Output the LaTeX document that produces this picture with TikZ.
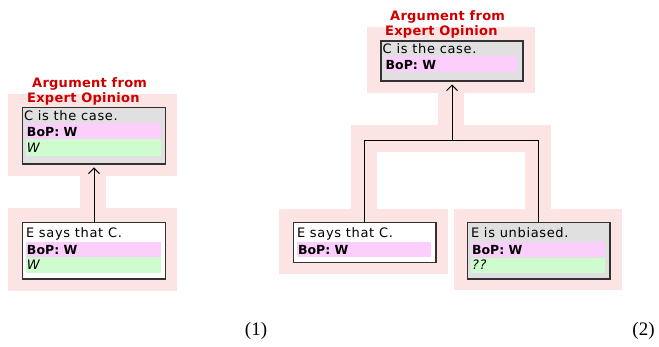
\documentclass[tikz,border=0pt]{standalone}
\usepackage{fontspec}
\setmainfont{Liberation Serif}
\newfontfamily\regf{DejaVu Sans}[LetterSpace=5]
\newfontfamily\boldf{DejaVu Sans}
\newfontfamily\redf{DejaVu Sans}[LetterSpace=2]
\usetikzlibrary{arrows.meta,calc}
\definecolor{halo}{RGB}{253,228,228}
\definecolor{bandp}{RGB}{252,206,252}
\definecolor{bandg}{RGB}{206,252,206}
\definecolor{boxg}{RGB}{224,224,224}
\definecolor{labred}{RGB}{204,0,0}
\definecolor{edge}{RGB}{50,50,50}
\tikzset{
  stmt/.style={draw=edge, line width=1.2pt, rectangle, anchor=north west, inner sep=0pt, outer sep=0pt},
  txt/.style={anchor=base west, inner sep=0pt, font=\regf\fontsize{13}{15}\selectfont},
  bop/.style={anchor=base west, inner sep=0pt, font=\boldf\bfseries\fontsize{12.5}{15}\selectfont},
  itl/.style={anchor=base west, inner sep=0pt, font=\regf\itshape\fontsize{13}{15}\selectfont},
  redlab/.style={anchor=base west, inner sep=0pt, text=labred, font=\redf\bfseries\fontsize{13}{15}\selectfont},
  conn/.style={draw=black, line width=0.9pt},
  tiparrow/.style={-{Straight Barb[length=5.5pt,width=11pt,line width=0.9pt]}, shorten >=3.5pt},
  num/.style={inner sep=0pt, font=\fontsize{19}{21}\selectfont}
}
\begin{document}
\begin{tikzpicture}[x=1pt,y=-1pt]
\useasboundingbox (0,0) rectangle (659,347);
% halos diagram 1
\fill[halo] (8,94) rectangle (177,176);
\fill[halo] (80,176) rectangle (106,208);
\fill[halo] (8,208) rectangle (177,291);
% halos diagram 2
\fill[halo] (367,27) rectangle (535,93);
\fill[halo] (438,93) rectangle (464,125);
\fill[halo] (351,125) rectangle (551,152);
\fill[halo] (351,152) rectangle (377,209);
\fill[halo] (525,152) rectangle (551,209);
\fill[halo] (279,209) rectangle (448,274);
\fill[halo] (454,209) rectangle (622,290);

% ---------- diagram 1 ----------
\node[stmt, fill=boxg, minimum width=143.4pt, minimum height=56.7pt] (t1) at (22.3,107.3) {};
\fill[bandp] ($(t1.north west)+(3.7,16)$) rectangle ($(t1.north east)+(-5,32)$);
\fill[bandg] ($(t1.north west)+(3.7,32)$) rectangle ($(t1.north east)+(-5,48.5)$);
\node[txt] (t1a) at ($(t1.north west)+(1.5,13.7)$) {C is the case.};
\node[bop] (t1b) at ($(t1.north west)+(4.5,29.5)$) {BoP: W};
\node[itl] (t1c) at ($(t1.north west)+(4.5,45)$) {W};

\node[stmt, fill=white, minimum width=143.4pt, minimum height=56.7pt] (b1) at (22.3,222.3) {};
\fill[bandp] ($(b1.north west)+(3.7,19.5)$) rectangle ($(b1.north east)+(-5,34.5)$);
\fill[bandg] ($(b1.north west)+(3.7,34.5)$) rectangle ($(b1.north east)+(-5,51)$);
\node[txt] (b1a) at ($(b1.north west)+(3.5,15.5)$) {E says that C.};
\node[bop] (b1b) at ($(b1.north west)+(4.5,32.5)$) {BoP: W};
\node[itl] (b1c) at ($(b1.north west)+(4.5,47.5)$) {W};

\node[redlab] (r1a) at (32,88) {Argument from};
\node[redlab] (r1b) at (27,103) {Expert Opinion};

\draw[conn, tiparrow] (b1.north) -- (t1.south);

% ---------- diagram 2 ----------
\node[stmt, fill=boxg, minimum width=142pt, minimum height=40pt] (t2) at (381,41) {};
\fill[bandp] ($(t2.north west)+(3.7,15)$) rectangle ($(t2.north east)+(-5,31)$);
\node[txt] (t2a) at ($(t2.north west)+(1.5,12.5)$) {C is the case.};
\node[bop] (t2b) at ($(t2.north west)+(4.5,28.5)$) {BoP: W};

\node[stmt, fill=white, minimum width=142.7pt, minimum height=40.4pt] (l2) at (293.3,222.3) {};
\fill[bandp] ($(l2.north west)+(3.7,19.5)$) rectangle ($(l2.north east)+(-5,34.5)$);
\node[txt] (l2a) at ($(l2.north west)+(3.5,15.5)$) {E says that C.};
\node[bop] (l2b) at ($(l2.north west)+(4.5,32.5)$) {BoP: W};

\node[stmt, fill=boxg, minimum width=142.7pt, minimum height=56.7pt] (r2) at (467.3,222.3) {};
\fill[bandp] ($(r2.north west)+(3.7,19.5)$) rectangle ($(r2.north east)+(-5,34.5)$);
\fill[bandg] ($(r2.north west)+(3.7,35.5)$) rectangle ($(r2.north east)+(-5,51)$);
\node[txt] (r2a) at ($(r2.north west)+(3.5,15.5)$) {E is unbiased.};
\node[bop] (r2b) at ($(r2.north west)+(4.5,32.5)$) {BoP: W};
\node[itl] (r2c) at ($(r2.north west)+(4.5,47.5)$) {??};

\node[redlab] (r2la) at (390,20.7) {Argument from};
\node[redlab] (r2lb) at (385,36) {Expert Opinion};

\coordinate (j) at (452,140);
\draw[conn] (l2.north) |- (j);
\draw[conn] (r2.north) |- (j);
\draw[conn, tiparrow] (j) -- (t2.south);

% figure numbers
\node[num] (n1) at (256,331) {(1)};
\node[num] (n2) at (643.5,331) {(2)};
\end{tikzpicture}
\end{document}
